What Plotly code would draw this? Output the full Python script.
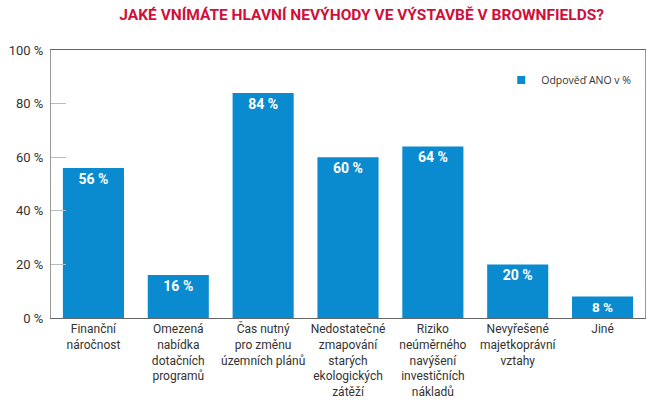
import plotly.graph_objects as go

categories = [
    "Finanční<br>náročnost",
    "Omezená<br>nabídka<br>dotačních<br>programů",
    "Čas nutný<br>pro změnu<br>územních plánů",
    "Nedostatečné<br>zmapování<br>starých<br>ekologických<br>zátěží",
    "Riziko<br>neúměrného<br>navýšení<br>investičních<br>nákladů",
    "Nevyřešené<br>majetkoprávní<br>vztahy",
    "Jiné",
]
values = [56, 16, 84, 60, 64, 20, 8]
series_name = "Odpověď ANO v %"
y_ticks = [0, 20, 40, 60, 80, 100]
y_tick_labels = ["0 %", "20 %", "40 %", "60 %", "80 %", "100 %"]

FONT = "Roboto, sans-serif"
BLUE = "#0a8bd0"

fig = go.Figure()
fig.add_trace(go.Bar(
    x=categories,
    y=values,
    name=series_name,
    marker=dict(color=BLUE, line=dict(width=0)),
    text=[f"{v} %" for v in values],
    texttemplate="%{text}",
    textposition="inside",
    insidetextanchor="end",
    textangle=0,
    textfont=dict(color="white", size=14, family=FONT, weight="bold"),
    showlegend=False,
))
# legend entry (small square marker, as in the reference)
fig.add_trace(go.Scatter(
    x=[None], y=[None], mode="markers", name=series_name,
    marker=dict(symbol="square", size=8, color=BLUE),
    showlegend=True, hoverinfo="skip",
))

fig.update_layout(
    width=660,
    height=405,
    margin=dict(l=51, r=15, t=50, b=87),
    paper_bgcolor="white",
    plot_bgcolor="white",
    bargap=0.28,
    font=dict(family=FONT, size=12, color="#333333"),
    title=dict(
        text="<b>JAKÉ VNÍMÁTE HLAVNÍ NEVÝHODY VE VÝSTAVBĚ V BROWNFIELDS?</b>",
        x=0.548, xanchor="center", y=0.965, yanchor="middle",
        font=dict(family=FONT, size=15.5, color="#d0103a"),
    ),
    legend=dict(
        x=0.758, y=0.888, xanchor="left", yanchor="middle",
        bgcolor="rgba(0,0,0,0)",
        font=dict(size=10.5, color="#333333", family="Open Sans, sans-serif"),
        itemwidth=30,
    ),
    xaxis=dict(
        showline=True, linecolor="#666666", linewidth=1, mirror=True,
        ticks="", showgrid=False, tickangle=0, automargin=False,
        tickfont=dict(size=12, color="#333333"),
    ),
    yaxis=dict(
        range=[0, 100],
        tickvals=y_ticks, ticktext=y_tick_labels,
        showline=True, linecolor="#999999", linewidth=1, mirror=True,
        ticks="inside", ticklen=15, tickcolor="#bbbbbb", tickwidth=1,
        showgrid=False, zeroline=False, automargin=False,
        tickfont=dict(size=13, color="#333333"),
        ticklabelstandoff=4,
    ),
)

fig.write_html(
    "out.html",
    config={"displayModeBar": False},
    post_script="document.body.style.margin='0';document.body.style.overflow='hidden';",
)
